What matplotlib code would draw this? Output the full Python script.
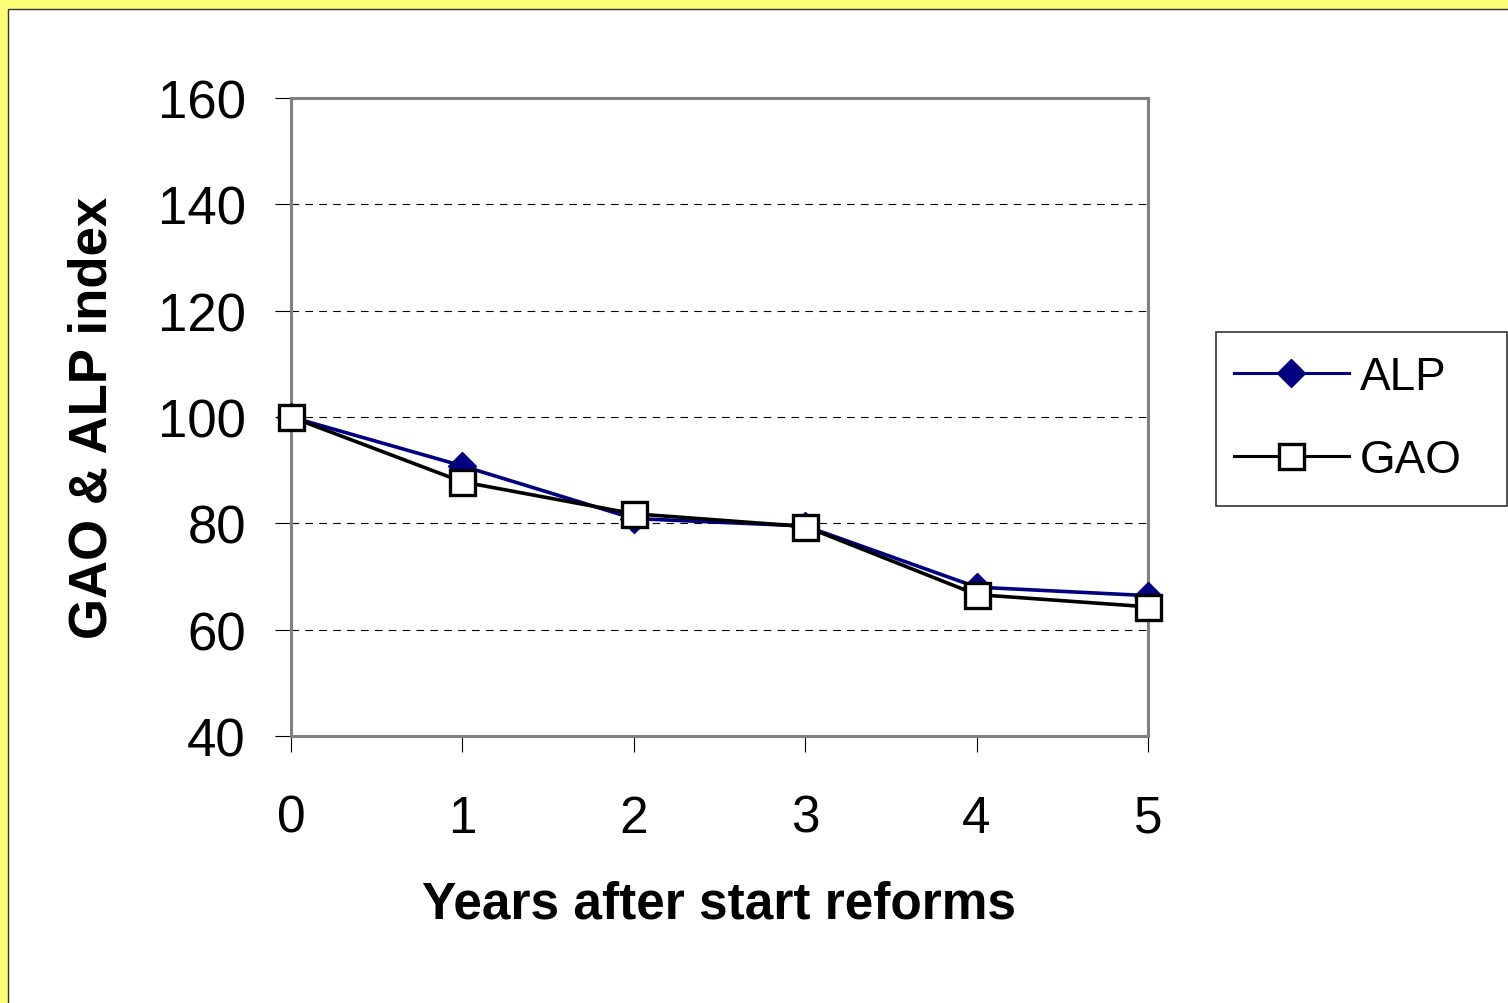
import numpy as np
import matplotlib
matplotlib.use('Agg')
import matplotlib.pyplot as plt
from matplotlib.patches import Rectangle
from matplotlib import font_manager

# index values (year 0 = 100) after the start of the reforms
years = [0, 1, 2, 3, 4, 5]
alp = [100.0, 90.8, 80.9, 79.5, 68.0, 66.4]
gao = [100.0, 87.8, 81.8, 79.4, 66.6, 64.3]
yticks = [40, 60, 80, 100, 120, 140, 160]

plt.rcParams['font.family'] = ['Liberation Sans', 'DejaVu Sans']
plt.rcParams['lines.scale_dashes'] = False

# condensed face for the category labels if there is one
names = set(f.name for f in font_manager.fontManager.ttflist)
narrow = 'Liberation Sans Narrow' if 'Liberation Sans Narrow' in names else 'Liberation Sans'

W, H = 1508, 1004
fig = plt.figure(figsize=(W / 100, H / 100), dpi=100, facecolor='#FFFF77')

# white page with a thin dark frame inside the yellow margin
page = Rectangle((8 / W, -0.1), 1.2, (H - 9.5) / H + 0.1, transform=fig.transFigure,
                 facecolor='white', edgecolor='#333333', lw=1.0, zorder=-10)
fig.patches.append(page)

# legend box, drawn under the axes so the legend itself lands on top
fig.patches.append(Rectangle((1216 / W, 1 - 507 / H), (1507 - 1216) / W, (507 - 333) / H,
                             transform=fig.transFigure, facecolor='white',
                             edgecolor='#222222', lw=1.1, zorder=-5))

ax = fig.add_axes([291 / W, 1 - 737 / H, (1148 - 291) / W, (737 - 99) / H])
ax.set_facecolor('white')

ax.plot(years, alp, color='#000080', lw=2.6, marker='D', ms=14,
        mfc='#000080', mec='#000080', label='ALP', zorder=3, clip_on=False)
ax.plot(years, gao, color='black', lw=2.6, marker='s', ms=18, mew=2.4,
        mfc='white', mec='black', label='GAO', zorder=4, clip_on=False)

ax.set_xlim(0, 5)
ax.set_ylim(40, 160)
ax.set_xticks(years)
ax.set_yticks(yticks)
ax.set_xticklabels([str(y) for y in years], family=narrow, fontsize=37)
ax.set_yticklabels([str(v) for v in yticks], fontsize=38)

ax.tick_params(axis='y', direction='out', length=11.5, width=0.8, pad=21, color='black')
ax.tick_params(axis='x', direction='out', length=11.5, width=0.8, pad=30, color='black')

for v in yticks[1:-1]:
    ax.axhline(v, color='black', lw=0.8, ls=(0, (5.5, 4.5)), zorder=1)

for s in ax.spines.values():
    s.set_color('#808080')
    s.set_linewidth(2.2)
ax.plot([0, 0], [0, 1], transform=ax.transAxes, color='black', lw=0.8, clip_on=False, zorder=2)
ax.plot([0, 1], [0, 0], transform=ax.transAxes, color='black', lw=0.8, clip_on=False, zorder=2)

ax.set_xlabel('Years after start reforms', fontsize=37, fontweight='bold')
ax.xaxis.set_label_coords(0.5, -(905 - 737) / (737 - 99))
ax.xaxis.label.set_va('center')
ax.set_ylabel('GAO & ALP index', fontsize=38, fontweight='bold')
ax.yaxis.set_label_coords(-(291 - 93) / (1148 - 291), 0.5)
ax.yaxis.label.set_va('center')

leg = ax.legend(loc='upper left', bbox_to_anchor=(1234 / W, 1 - 356 / H),
                bbox_transform=fig.transFigure, frameon=False, fontsize=33,
                handlelength=2.5, handletextpad=0.25, labelspacing=0.85,
                borderpad=0.0, borderaxespad=0)
for h in leg.get_lines():
    h.set_linewidth(2.2)

fig.savefig('out.png', dpi=100, facecolor=fig.get_facecolor())
